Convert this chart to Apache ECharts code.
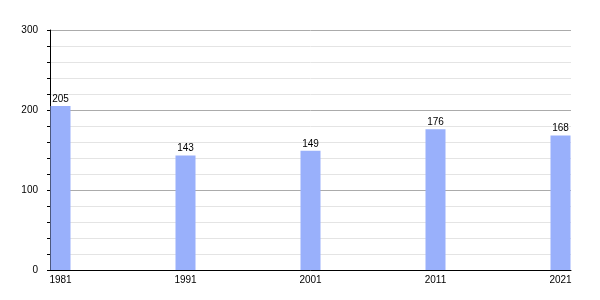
<!DOCTYPE html>
<html>
<head>
<meta charset="utf-8">
<script src="https://cdn.jsdelivr.net/npm/echarts@6/dist/echarts.min.js"></script>
<style>
html,body{margin:0;padding:0;background:#fff;}
#chart{width:600px;height:300px;}
</style>
</head>
<body>
<div id="chart"></div>
<script>
var years = [1981, 1991, 2001, 2011, 2021];
var values = [205, 143, 149, 176, 168];
var yTicks = [0, 100, 200, 300];

var chart = echarts.init(document.getElementById('chart'), null, {renderer: 'canvas'});
var font = 'Liberation Sans, Arial, sans-serif';
chart.setOption({
  animation: false,
  backgroundColor: '#ffffff',
  grid: {left: 50, right: 29, top: 30, bottom: 30, containLabel: false},
  xAxis: {
    type: 'value',
    min: years[0] - 0.84,
    max: years[years.length - 1] + 0.84,
    axisLine: {show: true, onZero: false, lineStyle: {color: '#000', width: 1}},
    axisTick: {show: false},
    splitLine: {show: false},
    axisLabel: {
      customValues: years,
      color: '#000', fontSize: 10, fontFamily: font, margin: 5,
      formatter: function (v) { return String(v); }
    }
  },
  yAxis: {
    type: 'value',
    min: yTicks[0],
    max: yTicks[yTicks.length - 1],
    interval: 100,
    axisLine: {show: true, lineStyle: {color: '#000', width: 1}},
    axisTick: {show: true, length: 3, lineStyle: {color: '#000'}},
    minorTick: {show: true, splitNumber: 5, length: 3, lineStyle: {color: '#000'}},
    splitLine: {show: true, lineStyle: {color: '#ababab', width: 1}},
    minorSplitLine: {show: true, lineStyle: {color: '#e4e4e4', width: 1}},
    axisLabel: {color: '#000', fontSize: 10, fontFamily: font, margin: 12}
  },
  series: [{
    type: 'bar',
    barWidth: 20,
    data: years.map(function (y, i) { return [y, values[i]]; }),
    itemStyle: {color: '#99b0fb'},
    label: {
      show: true, position: 'top', distance: 2,
      color: '#000', fontSize: 10, fontFamily: font,
      formatter: function (p) { return p.value[1]; }
    }
  }]
});
</script>
</body>
</html>
